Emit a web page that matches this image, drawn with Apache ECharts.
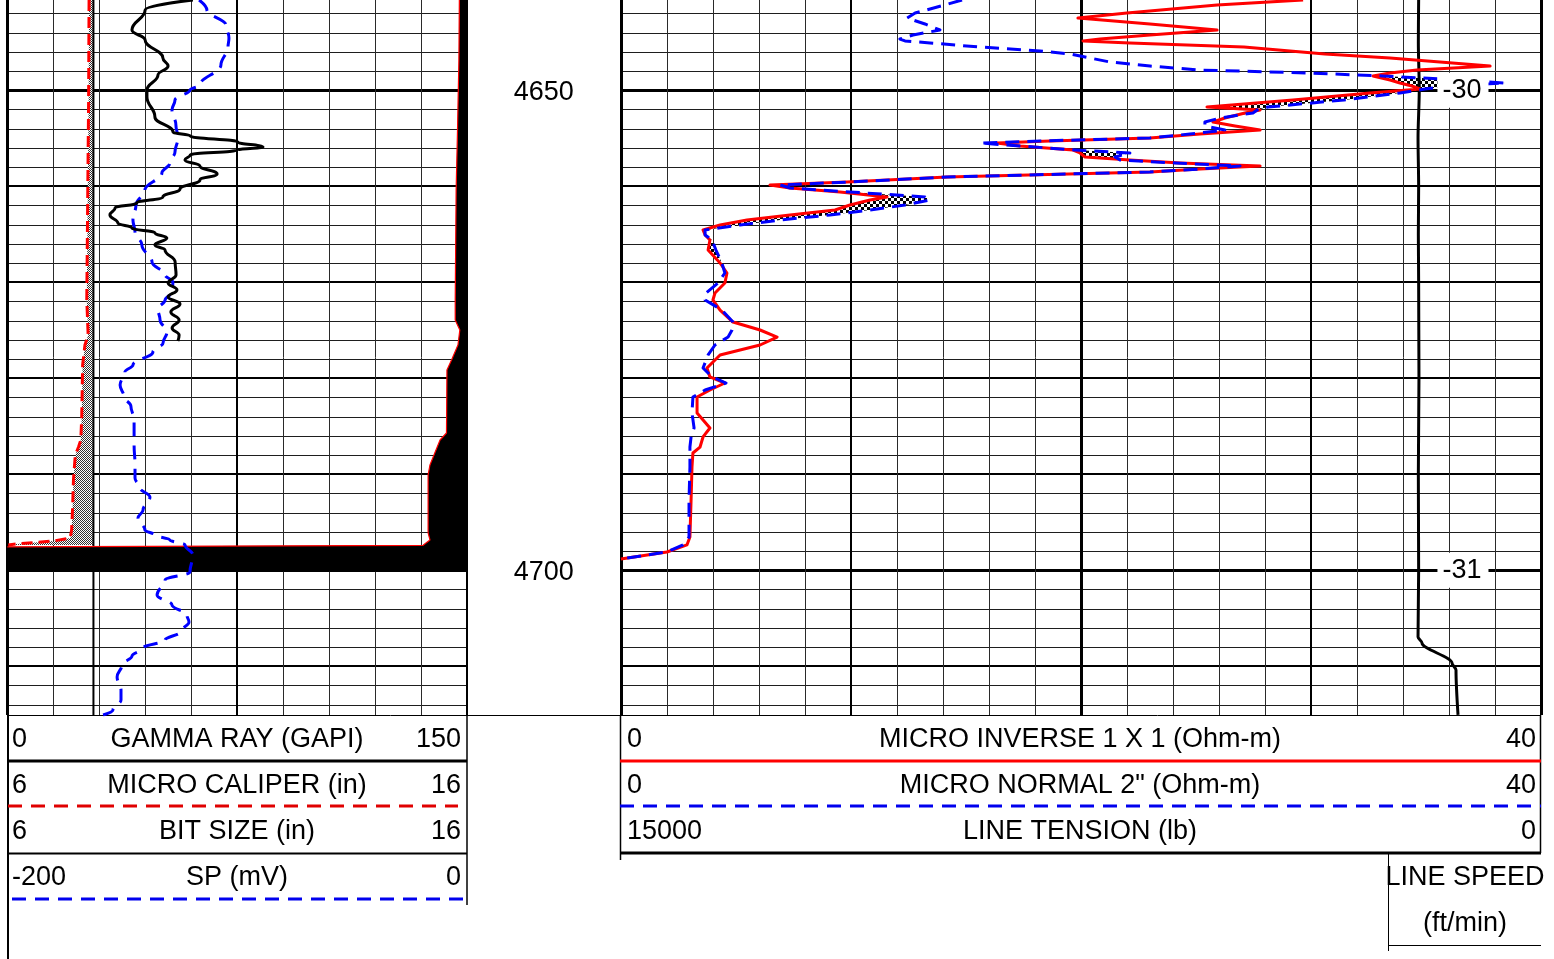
<!DOCTYPE html>
<html><head><meta charset="utf-8">
<script src="https://cdn.jsdelivr.net/npm/echarts@6/dist/echarts.min.js"></script>
<style>html,body{margin:0;padding:0;background:#fff;overflow:hidden}#c{width:1554px;height:959px}</style>
</head><body><div id="c"></div>
<script>
// ---------------- DATA ----------------
const DEPTH_TOP = 4640.594, DEPTH_BOTTOM = 4715.073;
const DEPTH_LABELS = [4650, 4700];
const SPEED_DEPTH = [4650, 4700];
const SPEED = [-30, -31];

const GR_DEPTH = [4640.59,4641.64,4643.72,4644.76,4646.64,4647.47,4648.41,4649.97,4650.70,4652.78,4654.34,4654.76,4655.39,4655.91,4656.22,4656.74,4657.26,4657.89,4658.72,4659.34,4660.28,4661.11,4661.74,4662.26,4662.99,4663.82,4664.34,4664.86,4665.39,4666.11,4666.64,4667.89,4669.24,4670.07,4670.80,4671.53,4672.26,4673.09,4673.93,4674.76,4675.49,4676.11];
const GR = [60.6,45.0,40.7,45.0,50.8,52.5,49.2,45.6,45.6,48.2,54.1,59.7,75.3,83.5,75.0,59.7,58.0,62.9,68.5,62.9,56.4,50.8,42.3,35.2,33.5,36.1,40.7,48.2,52.1,48.2,51.5,54.8,55.1,52.5,55.4,52.5,56.4,53.4,56.1,53.8,56.1,55.7];

const SP_DEPTH = [4640.59,4641.64,4643.20,4644.55,4645.49,4647.36,4649.45,4649.97,4651.01,4652.05,4653.61,4654.97,4656.43,4657.57,4658.61,4660.39,4661.95,4663.51,4664.76,4666.11,4667.89,4669.24,4669.97,4671.01,4671.84,4672.78,4673.93,4675.18,4676.32,4677.26,4678.61,4679.34,4680.70,4681.95,4682.89,4684.34,4686.95,4689.03,4690.39,4691.43,4692.37,4693.72,4694.55,4695.80,4696.32,4696.84,4697.36,4698.41,4700.18,4701.01,4702.57,4703.61,4704.66,4705.39,4706.43,4707.26,4708.09,4708.93,4709.86,4711.11,4712.47,4713.51,4714.55,4715.07];
const SP = [-116.5,-113.1,-104.8,-103.5,-103.9,-107.0,-116.1,-120.5,-127.0,-128.3,-126.6,-125.7,-127.0,-129.2,-132.7,-140.1,-144.0,-145.3,-144.4,-141.4,-137.0,-131.3,-127.9,-128.3,-131.3,-134.4,-133.5,-130.5,-132.2,-136.6,-145.3,-148.8,-150.9,-149.2,-146.2,-144.8,-144.8,-144.4,-144.4,-142.2,-137.9,-140.9,-143.1,-140.1,-135.7,-129.2,-122.6,-119.2,-120.5,-131.3,-134.8,-128.3,-121.8,-120.9,-124.8,-131.3,-140.9,-145.7,-150.1,-152.2,-150.5,-150.5,-154.0,-158.3];

const CAL_DEPTH = [4640.59,4651.01,4661.43,4671.84,4675.49,4676.53,4678.61,4684.03,4686.43,4687.16,4687.99,4690.59,4693.72,4695.80,4696.64,4696.95,4697.26,4697.36];
const CAL = [7.78,7.77,7.75,7.73,7.76,7.69,7.64,7.62,7.60,7.55,7.48,7.44,7.42,7.40,7.37,7.00,6.20,6.02];

const BIT_DEPTH = [4640.594, 4715.073];
const BIT = [7.875, 7.875];

const WRAP_DEPTH = [4640.59,4646.84,4654.14,4660.39,4671.84,4673.93,4674.97,4676.53,4678.09,4679.13,4685.70,4686.43,4688.20,4689.03,4690.07,4696.11,4696.84,4697.40,4697.55,4700.15,4700.16];
const WRAP = [15.84,15.83,15.80,15.77,15.75,15.75,15.85,15.81,15.67,15.57,15.56,15.42,15.27,15.20,15.16,15.16,15.20,15.05,6.00,6.00,16.00];

const MICRO_DEPTH = [4640.59,4641.11,4641.95,4642.47,4643.09,4643.72,4644.24,4644.66,4644.86,4645.07,4645.49,4645.91,4646.22,4646.64,4647.05,4647.47,4647.89,4648.20,4648.51,4648.93,4649.24,4649.55,4649.86,4650.28,4651.01,4651.74,4652.05,4652.36,4652.89,4653.30,4653.72,4654.14,4654.55,4654.97,4655.28,4655.49,4655.80,4656.22,4656.53,4656.95,4657.26,4657.57,4657.89,4658.20,4658.51,4659.03,4659.55,4659.86,4660.18,4660.59,4661.11,4661.43,4661.95,4662.47,4662.99,4663.51,4664.03,4664.55,4665.07,4665.59,4666.64,4667.99,4669.03,4670.07,4671.11,4671.84,4672.89,4674.14,4674.97,4675.70,4676.53,4677.57,4678.93,4679.86,4680.49,4681.22,4681.95,4683.61,4685.18,4686.11,4687.16,4687.78,4689.24,4692.68,4696.53,4697.36,4698.09,4698.82];
const MINV = [29.67,25.93,22.01,19.88,23.01,25.93,23.01,20.84,20.10,22.14,27.10,29.10,30.62,33.45,35.62,37.80,34.62,33.45,32.71,33.45,33.88,34.40,34.75,32.58,29.23,25.49,27.80,27.14,26.27,25.75,26.71,27.80,25.19,23.01,18.67,16.36,17.36,19.67,19.97,20.19,22.14,24.32,27.80,25.19,23.01,14.19,9.84,6.49,7.36,9.53,11.58,10.84,9.97,9.32,7.36,5.49,4.32,3.58,3.67,3.88,3.80,4.32,4.62,4.53,4.10,4.01,4.32,4.88,6.06,6.80,6.06,4.32,3.75,3.88,4.53,3.88,3.32,3.32,3.88,3.58,3.45,3.14,3.10,3.06,3.01,2.88,2.01,0.01];
const MNOR = [14.84,14.10,12.80,12.45,13.23,13.88,12.71,12.14,12.36,13.45,15.62,18.23,19.53,20.40,21.27,23.01,25.19,29.97,33.14,36.49,38.45,36.06,34.97,33.88,31.45,28.14,27.67,27.49,26.06,25.40,25.40,26.27,24.75,23.01,18.23,15.62,17.36,19.75,22.14,21.49,21.71,24.10,26.93,25.19,23.01,14.19,9.97,6.93,7.36,9.97,13.23,13.45,12.36,10.84,9.10,6.93,5.19,3.67,3.67,3.97,4.14,4.40,4.53,4.23,3.71,3.67,4.40,4.88,4.84,4.67,4.10,3.80,3.58,3.97,4.58,3.67,3.14,3.10,3.19,3.06,3.01,3.01,3.01,2.97,2.97,2.71,2.01,0.01];

const TENS_DEPTH = [4640.59,4645.0,4650.0,4655.0,4660.0,4665.0,4670.0,4680.0,4690.0,4700.0,4706.95,4707.57,4709.66,4710.39,4715.07];
const TENSION = [1990,1995,1980,2000,1990,1995,1990,1985,1995,1990,2000,1935,1446,1381,1348];

const HEADER_LEFT = [['0','GAMMA RAY (GAPI)','150'],['6','MICRO CALIPER (in)','16'],['6','BIT SIZE (in)','16'],['-200','SP (mV)','0']];
const HEADER_RIGHT = [['0','MICRO INVERSE 1 X 1 (Ohm-m)','40'],['0','MICRO NORMAL 2" (Ohm-m)','40'],['15000','LINE TENSION (lb)','0']];
const HEADER_SPEED = ['LINE SPEED','(ft/min)'];

// ---------------- LAYOUT / STYLE ----------------
const FONT = '"Liberation Sans", Arial, sans-serif';
const FS = 27;
const SPEED_LABEL_X = 36.62; // in resistivity-axis units (layout)
const LEFT = {x:7.3, w:459.4}, RIGHT = {x:620.7, w:920}, MID = {x:467, w:153.7};
const PLOT_H = 715;

function makePattern(size, cell, c1, c2){
  const cv = document.createElement('canvas'); cv.width = size; cv.height = size;
  const g = cv.getContext('2d'); g.fillStyle = c1; g.fillRect(0,0,size,size);
  g.fillStyle = c2;
  for (let y=0;y<size;y+=cell) for (let x=0;x<size;x+=cell) if (((x+y)/cell)%2===0) g.fillRect(x,y,cell,cell);
  return cv;
}
const CHECKER = {image: makePattern(6,3,'#ffffff','#000000'), repeat:'repeat'};
const DITHER = {image: makePattern(2,1,'#ffffff','#333333'), repeat:'repeat'};

const depthTicks = []; for (let d=4642; d<=4714; d+=2) depthTicks.push(d);

function crisp(p, w){ return Math.round(p) + ((Math.round(w)%2) ? 0.5 : 0); }

function gridChildren(api, xTicks, xMin, xMax, vw){
  const ch = [];
  const yTop = api.coord([xMin, DEPTH_TOP])[1], yBot = api.coord([xMin, DEPTH_BOTTOM])[1];
  const xl = api.coord([xMin, DEPTH_TOP])[0], xr = api.coord([xMax, DEPTH_TOP])[0];
  depthTicks.forEach(d => {
    const w = d%50===0 ? 3 : (d%10===0 ? 2 : 1);
    const y = crisp(api.coord([xMin,d])[1], w);
    ch.push({type:'line', shape:{x1:xl,y1:y,x2:xr,y2:y}, style:{stroke: w>1?'#000':'#1e1e1e', lineWidth:w}});
  });
  xTicks.forEach(v => {
    const w = vw(v);
    const x = crisp(api.coord([v, DEPTH_TOP])[0], w);
    ch.push({type:'line', shape:{x1:x,y1:yTop,x2:x,y2:yBot}, style:{stroke: w>1?'#000':'#2a2a2a', lineWidth:w}});
  });
  return ch;
}

function fillRuns(api, D, L, R, fill){
  const out = []; let left = [], right = [];
  const flush = () => {
    if (left.length > 1) out.push({type:'polygon', shape:{points: left.concat(right.slice().reverse()).map(p => api.coord(p))}, style:{fill: fill}});
    left = []; right = [];
  };
  for (let i=0;i<D.length;i++){
    const a = R[i]-L[i];
    if (i>0){
      const ap = R[i-1]-L[i-1];
      if ((ap>0) !== (a>0) && ap !== a){
        const t = ap/(ap-a);
        const d = D[i-1]+(D[i]-D[i-1])*t, x = L[i-1]+(L[i]-L[i-1])*t;
        left.push([x,d]); right.push([x,d]);
        if (!(a>0)) flush();
      }
    }
    if (a>0){ left.push([L[i],D[i]]); right.push([R[i],D[i]]); }
  }
  flush();
  return out;
}

function logLine(xi, yi, D, V, color, width, dash, z, smooth){
  return {type:'line', xAxisIndex:xi, yAxisIndex:yi, data: D.map((d,i)=>[V[i], d]),
    showSymbol:false, symbol:'none', silent:true, animation:false, z: z||4,
    smooth: smooth||false, smoothMonotone: smooth ? 'y' : undefined,
    lineStyle:{color:color, width:width, type: dash||'solid', cap:'butt', join:'round'}};
}

const leftTicks = []; for (let v=0; v<=150; v+=15) leftTicks.push(v);
const rightTicks = []; for (let v=0; v<=40; v+=2) rightTicks.push(v);

const yBase = {type:'value', inverse:true, min:DEPTH_TOP, max:DEPTH_BOTTOM, show:false};

const constCol = (D, v) => D.map(() => v);

// ---------------- HEADER GRAPHICS ----------------
const G = [];
function hline(x1,x2,y,w,color,dash){ G.push({type:'line', silent:true, shape:{x1,y1:y,x2,y2:y}, style:{stroke:color, lineWidth:w, lineDash: dash||null}}); }
function vline(x,y1,y2,w,color){ G.push({type:'line', silent:true, shape:{x1:x,y1,x2:x,y2}, style:{stroke:color||'#000', lineWidth:w}}); }
function text(t,x,y,align){ G.push({type:'text', silent:true, style:{text:t, x, y, textAlign:align, textVerticalAlign:'middle', verticalAlign:'middle', font:FS+'px '+FONT, fill:'#000'}}); }

hline(7, 1541, 715.5, 1, '#000');
vline(8, 715, 959, 2);
vline(467, 715, 905, 1.5);
vline(620.5, 715, 860, 1.5);
vline(1540.5, 715, 853, 1.5);
hline(7, 467, 761, 3, '#000');
hline(8, 458, 806, 3, '#e00000', [14,9]);
hline(7, 467, 853.5, 2, '#000');
hline(12, 463, 899, 3, '#0000ee', [14,9]);
hline(620, 1541, 761, 3, '#ff0000');
hline(620, 1541, 806, 3, '#0000ee', [14,9]);
hline(620, 1541, 853, 3, '#000');
vline(1388.5, 853, 951, 1);
hline(1388, 1541, 945.5, 1, '#000');
const rowsY = [740, 786, 832, 878];
HEADER_LEFT.forEach((r,i) => { text(r[0], 12, rowsY[i], 'left'); text(r[1], 237, rowsY[i], 'center'); text(r[2], 461, rowsY[i], 'right'); });
HEADER_RIGHT.forEach((r,i) => { text(r[0], 627, rowsY[i], 'left'); text(r[1], 1080, rowsY[i], 'center'); text(r[2], 1536, rowsY[i], 'right'); });
text(HEADER_SPEED[0], 1465, 878, 'center');
text(HEADER_SPEED[1], 1465, 924, 'center');

// ---------------- CHART ----------------
const chart = echarts.init(document.getElementById('c'), null, {renderer:'canvas'});
const labelBase = {show:true, position:'inside', fontSize:FS, color:'#000', fontFamily:FONT, textBorderWidth:0, opacity:1, offset:[0,2]};
chart.setOption({
  animation:false,
  backgroundColor:'#ffffff',
  textStyle:{fontFamily: FONT},
  grid:[
    {left:LEFT.x, top:0, width:LEFT.w, height:PLOT_H},
    {left:MID.x, top:0, width:MID.w, height:PLOT_H},
    {left:RIGHT.x, top:0, width:RIGHT.w, height:PLOT_H}
  ],
  xAxis:[
    {gridIndex:0, type:'value', min:0, max:150, show:false},
    {gridIndex:0, type:'value', min:6, max:16, show:false},
    {gridIndex:0, type:'value', min:-200, max:0, show:false},
    {gridIndex:1, type:'value', min:0, max:1, show:false},
    {gridIndex:2, type:'value', min:0, max:40, show:false},
    {gridIndex:2, type:'value', min:0, max:15000, inverse:true, show:false}
  ],
  yAxis:[ Object.assign({gridIndex:0}, yBase), Object.assign({gridIndex:1}, yBase), Object.assign({gridIndex:2}, yBase) ],
  graphic: G,
  series:[
    {type:'custom', xAxisIndex:0, yAxisIndex:0, z:1, silent:true, data:[[75, 4650]],
      renderItem:(p, api) => ({type:'group', children: gridChildren(api, leftTicks, 0, 150, v => v===0 ? 3 : (v===150 ? 2 : (v===75 ? 2 : 1)))})},
    {type:'custom', xAxisIndex:4, yAxisIndex:2, z:1, silent:true, data:[[20, 4650]],
      renderItem:(p, api) => ({type:'group', children: gridChildren(api, rightTicks, 0, 40, v => (v%20===0) ? 3 : (v%10===0 ? 2 : 1))})},
    {type:'custom', xAxisIndex:1, yAxisIndex:0, z:2, silent:true, data:[[7, 4650]],
      renderItem:(p, api) => ({type:'group', children: fillRuns(api, CAL_DEPTH, CAL, constCol(CAL_DEPTH, BIT[0]), DITHER)})},
    {type:'custom', xAxisIndex:1, yAxisIndex:0, z:2, silent:true, data:[[15, 4650]],
      renderItem:(p, api) => ({type:'group', children: fillRuns(api, WRAP_DEPTH, WRAP, constCol(WRAP_DEPTH, 16), '#000')})},
    {type:'custom', xAxisIndex:4, yAxisIndex:2, z:2, silent:true, data:[[20, 4650]],
      renderItem:(p, api) => ({type:'group', children: fillRuns(api, MICRO_DEPTH, MINV, MNOR, CHECKER)})},
    logLine(1, 0, BIT_DEPTH, BIT, '#000', 2, 'solid', 3),
    logLine(1, 0, WRAP_DEPTH.slice(0,19), WRAP.slice(0,19), '#ff0000', 1.2, 'solid', 3),
    logLine(1, 0, CAL_DEPTH, CAL, '#ff0000', 3, [11,6], 4),
    logLine(2, 0, SP_DEPTH, SP, '#0000ff', 3, [14,9], 4, 0.4),
    logLine(0, 0, GR_DEPTH, GR, '#000', 3, 'solid', 4, 0.45),
    logLine(5, 2, TENS_DEPTH, TENSION, '#000', 3, 'solid', 4, 0.3),
    logLine(4, 2, MICRO_DEPTH, MINV, '#ff0000', 3, 'solid', 4),
    logLine(4, 2, MICRO_DEPTH, MNOR, '#0000ff', 3, [14,8], 5),
    {type:'scatter', xAxisIndex:4, yAxisIndex:2, z:8, silent:true, symbolSize:1, itemStyle:{color:'rgba(0,0,0,0)', opacity:1},
      data: SPEED_DEPTH.map((d,i)=>[SPEED_LABEL_X, d, SPEED[i]]),
      label:Object.assign({}, labelBase, {formatter: p => String(p.data[2]), backgroundColor:'#fff', padding:[5,7,3,5], offset:[0,0]})},
    {type:'scatter', xAxisIndex:3, yAxisIndex:1, z:8, silent:true, symbolSize:1, itemStyle:{color:'rgba(0,0,0,0)', opacity:1},
      data: DEPTH_LABELS.map(d=>[0.5, d]),
      label:Object.assign({}, labelBase, {formatter: p => String(p.data[1])})}
  ]
});
</script>
</body></html>
